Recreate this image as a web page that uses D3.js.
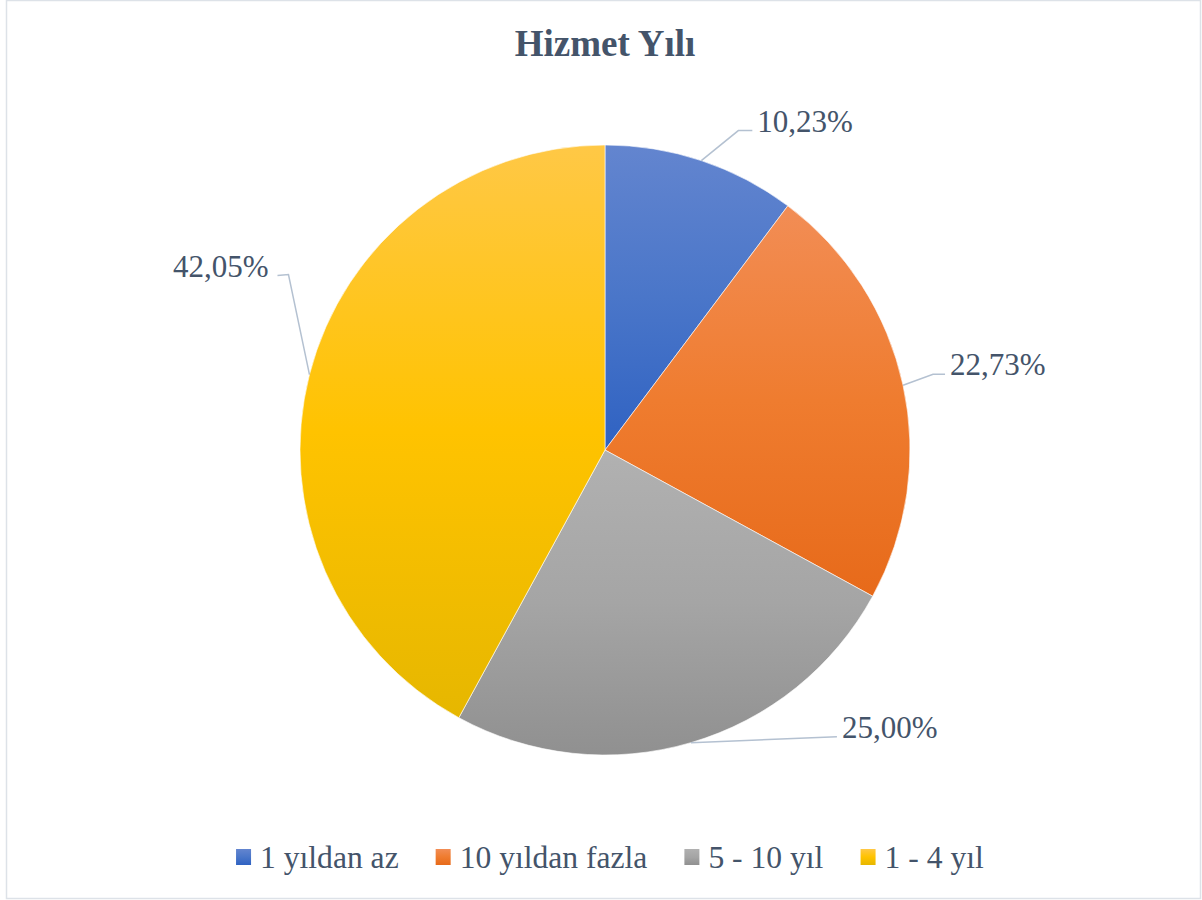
<!DOCTYPE html>
<html>
<head>
<meta charset="utf-8">
<script src="https://cdn.jsdelivr.net/npm/d3@7"></script>
<style>
  body { margin: 0; background: #fff; }
  svg { display: block; font-family: "Liberation Serif", "Times New Roman", serif; }
</style>
</head>
<body>
<div id="chart"></div>
<script>
const categories = ["1 yıldan az", "10 yıldan fazla", "5 - 10 yıl", "1 - 4 yıl"];
const values = [10.23, 22.73, 25.0, 42.05];
const topColors = ["#6385cf", "#f28d55", "#b1b1b1", "#ffc846"];
const midColors = ["#4a76c9", "#ef7c2f", "#a5a5a5", "#ffc300"];
const bottomColors = ["#2f62c2", "#e76a1a", "#909090", "#e6b700"];
// label offsets from the slice's outer mid point: elbow and text anchor
const labelLayout = [
  { elbow: [37, -30], text: [56, -29], anchor: "start" },
  { elbow: [30, -11], text: [47, -10], anchor: "start" },
  { elbow: null, text: [151, -5], anchor: "start" },
  { elbow: [-21, -100], text: [-41, -98], anchor: "end" }
];

const width = 1202;
const height = 900;
const cx = 605;
const cy = 450;
const radius = 305;
const textColor = "#44546a";

const svg = d3
  .select("#chart")
  .append("svg")
  .attr("width", width)
  .attr("height", height);

svg
  .append("rect")
  .attr("x", 6.5)
  .attr("y", 0.5)
  .attr("width", 1194)
  .attr("height", 898)
  .attr("fill", "#fff")
  .attr("stroke", "#dde2e8")
  .attr("stroke-width", 1.5);

svg
  .append("text")
  .attr("x", cx)
  .attr("y", 56)
  .attr("text-anchor", "middle")
  .attr("fill", textColor)
  .attr("font-size", 37)
  .attr("font-weight", "bold")
  .text("Hizmet Yılı");

const defs = svg.append("defs");
categories.forEach((c, i) => {
  const g = defs
    .append("linearGradient")
    .attr("id", "grad" + i)
    .attr("x1", 0)
    .attr("y1", 0)
    .attr("x2", 0)
    .attr("y2", 1);
  g.append("stop").attr("offset", "0%").attr("stop-color", topColors[i]);
  g.append("stop").attr("offset", "50%").attr("stop-color", midColors[i]);
  g.append("stop").attr("offset", "100%").attr("stop-color", bottomColors[i]);
});

const pie = d3.pie().sort(null).value(d => d);
const arcs = pie(values);
const arc = d3.arc().innerRadius(0).outerRadius(radius);

const plot = svg.append("g").attr("transform", `translate(${cx},${cy})`);

plot
  .selectAll("path.slice")
  .data(arcs)
  .join("path")
  .attr("class", "slice")
  .attr("d", arc)
  .attr("fill", (d, i) => `url(#grad${i})`)
  .attr("stroke", "#fff")
  .attr("stroke-width", 0.6);

const fmt = v => d3.format(".2f")(v).replace(".", ",") + "%";
const edge = d => {
  const a = (d.startAngle + d.endAngle) / 2;
  return [radius * Math.sin(a), -radius * Math.cos(a)];
};

const labels = plot.append("g");
arcs.forEach((d, i) => {
  const p = edge(d);
  const L = labelLayout[i];
  const t = [p[0] + L.text[0], p[1] + L.text[1]];
  const gap = L.anchor === "start" ? -5 : 9;
  const lineEnd = [t[0] + gap, p[1] + L.text[1] - 1];
  const pts = [p];
  if (L.elbow) pts.push([p[0] + L.elbow[0], p[1] + L.elbow[1]]);
  pts.push(lineEnd);
  labels
    .append("path")
    .attr("d", d3.line()(pts))
    .attr("fill", "none")
    .attr("stroke", "#b4c1d1")
    .attr("stroke-width", 1.5);
  labels
    .append("text")
    .attr("x", t[0])
    .attr("y", t[1])
    .attr("text-anchor", L.anchor)
    .attr("fill", textColor)
    .attr("font-size", 31)
    .text(fmt(values[i]));
});

// legend
const legend = svg.append("g").attr("transform", "translate(0,868)");
const items = legend
  .selectAll("g")
  .data(categories)
  .join("g");
items
  .append("rect")
  .attr("y", -19)
  .attr("width", 15)
  .attr("height", 16)
  .attr("fill", (d, i) => `url(#grad${i})`);
items
  .append("text")
  .attr("x", 24)
  .attr("fill", textColor)
  .attr("font-size", 31.6)
  .text(d => d);

// lay legend items out centered
const gapBetween = 37;
const widths = [];
items.each(function () {
  widths.push(this.getBBox().width);
});
const total = d3.sum(widths) + gapBetween * (widths.length - 1);
let x = cx + 5 - total / 2;
items.attr("transform", (d, i) => {
  const tx = x;
  x += widths[i] + gapBetween;
  return `translate(${tx},0)`;
});
</script>
</body>
</html>
